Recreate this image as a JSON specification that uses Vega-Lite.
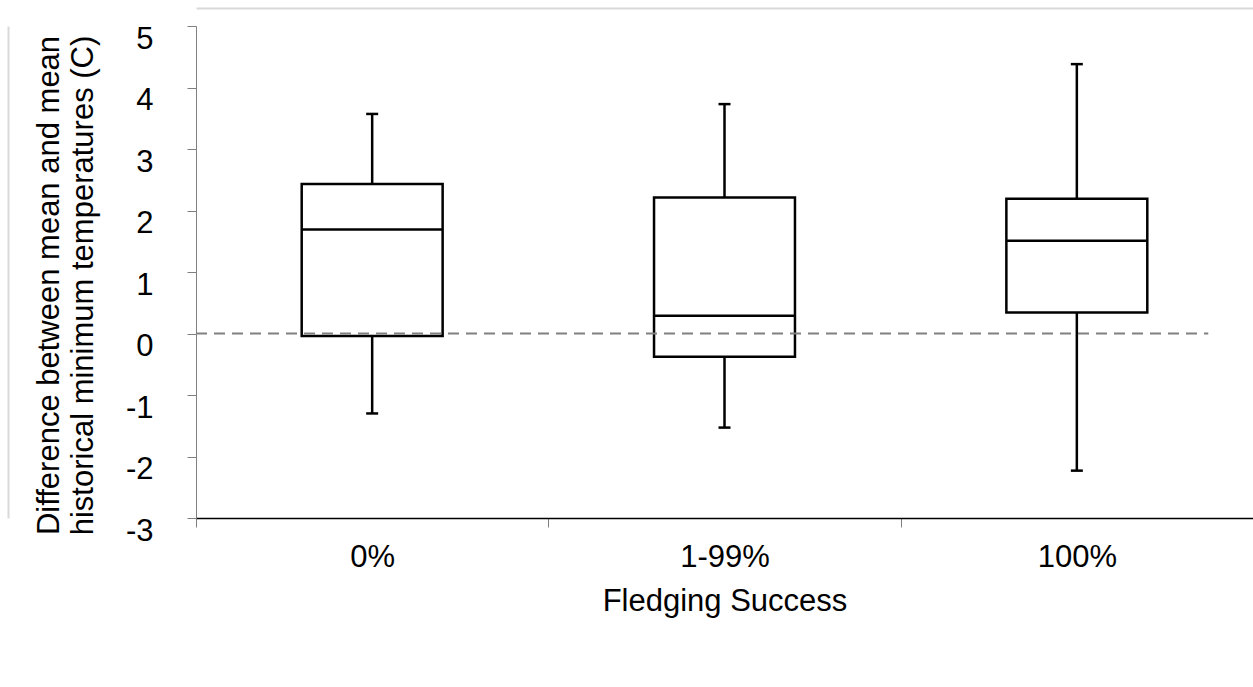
{
  "$schema": "https://vega.github.io/schema/vega-lite/v6.json",
  "autosize": "none",
  "width": 1057,
  "height": 492,
  "padding": {"left": 196, "top": 26, "right": 0, "bottom": 169},
  "background": "white",
  "config": {
    "view": {"stroke": null},
    "font": "Liberation Sans",
    "axis": {
      "labelFont": "Liberation Sans",
      "titleFont": "Liberation Sans",
      "labelColor": "black",
      "titleColor": "black",
      "labelFontSize": 31,
      "titleFontSize": 31,
      "titleFontWeight": "normal",
      "grid": false
    }
  },
  "datasets": {
    "boxes": [
      {"cat": "0%", "lo": -1.30, "q1": -0.04, "med": 1.69, "q3": 2.43, "hi": 3.57},
      {"cat": "1-99%", "lo": -1.53, "q1": -0.38, "med": 0.29, "q3": 2.21, "hi": 3.73},
      {"cat": "100%", "lo": -2.23, "q1": 0.34, "med": 1.51, "q3": 2.19, "hi": 4.38}
    ],
    "ref": [{"from": "0%", "to": "100%", "ref": 0}]
  },
  "resolve": {"axis": {"x": "independent", "y": "independent"}},
  "layer": [
    {
      "data": {"name": "boxes"},
      "mark": {"type": "rule", "strokeOpacity": 0},
      "encoding": {
        "x": {
          "field": "cat", "type": "nominal",
          "scale": {"domain": ["0%", "1-99%", "100%"], "paddingInner": 0, "paddingOuter": 0},
          "axis": {"orient": "top", "offset": 18, "title": null, "labels": false, "ticks": false, "domainColor": "#d9d9d9", "domainWidth": 2}
        },
        "y": {
          "field": "lo", "type": "quantitative",
          "scale": {"domain": [-3, 5], "nice": false, "zero": false},
          "axis": {"orient": "left", "offset": 188, "title": null, "labels": false, "ticks": false, "domainColor": "#d9d9d9", "domainWidth": 2}
        }
      }
    },
    {
      "data": {"name": "boxes"},
      "mark": {"type": "rule", "color": "black", "strokeWidth": 2.5},
      "encoding": {
        "x": {
          "field": "cat", "type": "nominal",
          "axis": {
            "orient": "bottom",
            "title": "Fledging Success",
            "labelAngle": 0,
            "domainColor": "black",
            "domainWidth": 1.5,
            "tickColor": "#808080",
            "tickWidth": 1,
            "tickSize": 9,
            "tickBand": "extent",
            "labelPadding": 15,
            "titlePadding": 14
          }
        },
        "y": {
          "field": "lo", "type": "quantitative",
          "axis": {
            "orient": "left",
            "title": ["Difference between mean and mean", "historical minimum temperatures (C)"],
            "values": [-3, -2, -1, 0, 1, 2, 3, 4, 5],
            "labelExpr": "datum.value < 0 ? '-' + abs(datum.value) : '' + datum.value",
            "domainColor": "#808080",
            "domainWidth": 1,
            "tickColor": "#808080",
            "tickWidth": 1,
            "tickSize": 9,
            "labelPadding": 34,
            "labelOffset": 13,
            "labelBound": false,
            "titleX": -138,
            "titleY": 259,
            "titleAlign": "center",
            "titleBaseline": "alphabetic",
            "titleLineHeight": 34
          }
        },
        "y2": {"field": "q1"}
      }
    },
    {
      "data": {"name": "boxes"},
      "mark": {"type": "rule", "color": "black", "strokeWidth": 2.5},
      "encoding": {
        "x": {"field": "cat", "type": "nominal", "axis": null},
        "y": {"field": "q3", "type": "quantitative", "axis": null},
        "y2": {"field": "hi"}
      }
    },
    {
      "data": {"name": "boxes"},
      "mark": {"type": "bar", "fill": "white", "stroke": "black", "strokeWidth": 2.5, "width": {"band": 0.4}},
      "encoding": {
        "x": {"field": "cat", "type": "nominal", "axis": null},
        "y": {"field": "q1", "type": "quantitative", "axis": null},
        "y2": {"field": "q3"}
      }
    },
    {
      "data": {"name": "boxes"},
      "mark": {"type": "tick", "color": "black", "thickness": 2.5, "size": 141, "opacity": 1},
      "encoding": {
        "x": {"field": "cat", "type": "nominal", "axis": null},
        "y": {"field": "med", "type": "quantitative", "axis": null}
      }
    },
    {
      "data": {"name": "boxes"},
      "mark": {"type": "tick", "color": "black", "thickness": 2.5, "size": 12, "opacity": 1},
      "encoding": {
        "x": {"field": "cat", "type": "nominal", "axis": null},
        "y": {"field": "lo", "type": "quantitative", "axis": null}
      }
    },
    {
      "data": {"name": "boxes"},
      "mark": {"type": "tick", "color": "black", "thickness": 2.5, "size": 12, "opacity": 1},
      "encoding": {
        "x": {"field": "cat", "type": "nominal", "axis": null},
        "y": {"field": "hi", "type": "quantitative", "axis": null}
      }
    },
    {
      "data": {"name": "ref"},
      "mark": {"type": "rule", "color": "#808080", "strokeWidth": 2, "strokeDash": [11, 7]},
      "encoding": {
        "x": {"field": "from", "type": "nominal", "bandPosition": 0, "axis": null},
        "x2": {"field": "to", "bandPosition": 0.873},
        "y": {"field": "ref", "type": "quantitative", "axis": null}
      }
    }
  ]
}
